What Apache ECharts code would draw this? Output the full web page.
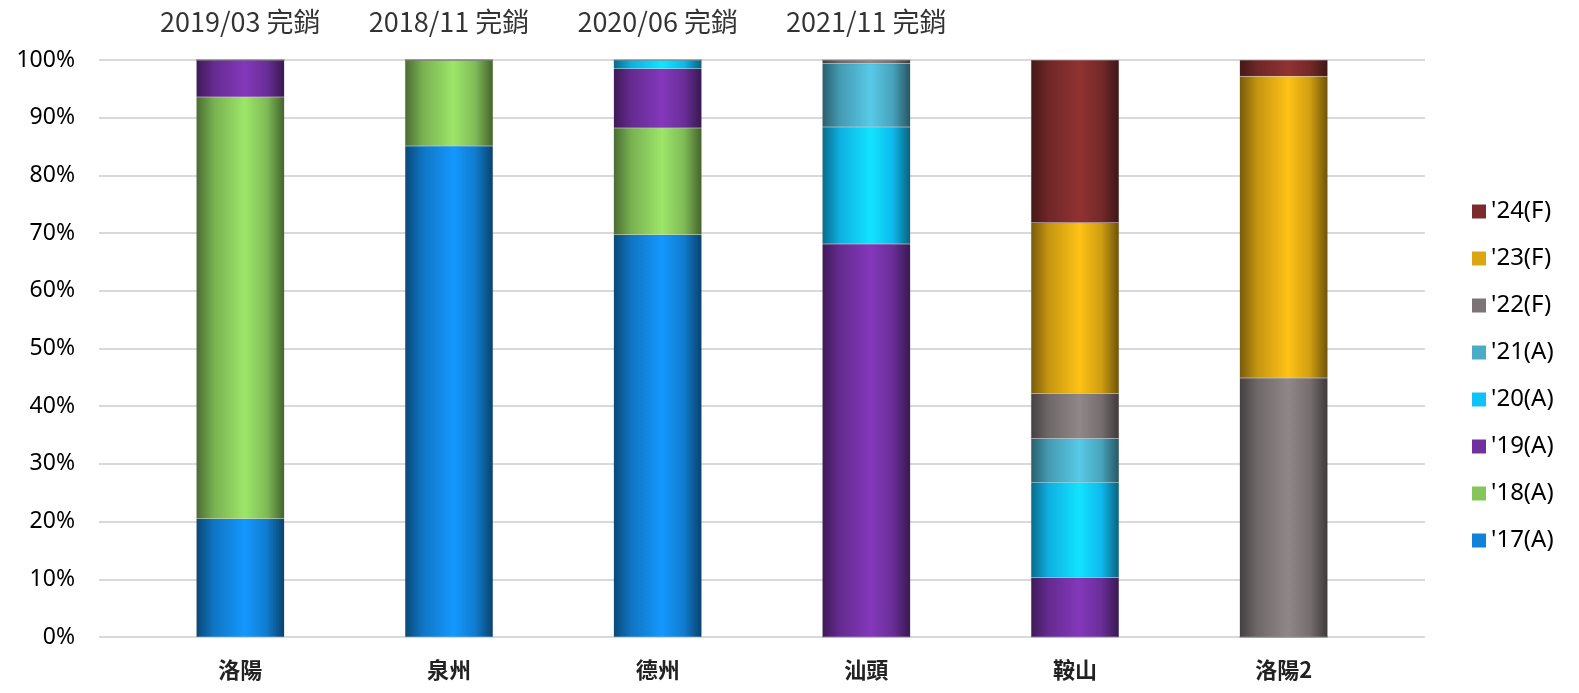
<!DOCTYPE html>
<html>
<head>
<meta charset="utf-8">
<script src="https://cdn.jsdelivr.net/npm/echarts@6/dist/echarts.min.js"></script>
<style>
html,body{margin:0;padding:0;background:#fff;}
#main{width:1579px;height:693px;}
</style>
</head>
<body>
<div id="main"></div>
<script>
// ---- data ----
const categories = ['洛陽', '泉州', '德州', '汕頭', '鞍山', '洛陽2'];
const seriesNames = ["'17(A)", "'18(A)", "'19(A)", "'20(A)", "'21(A)", "'22(F)", "'23(F)", "'24(F)"];
const s17 = [20.5, 85.1, 69.7, 0, 0, 0];
const s18 = [73.1, 14.9, 18.5, 0, 0, 0];
const s19 = [6.4, 0, 10.3, 68.1, 10.3, 0];
const s20 = [0, 0, 1.5, 20.3, 16.5, 0];
const s21 = [0, 0, 0, 11.0, 7.6, 0];
const s22 = [0, 0, 0, 0.6, 7.8, 44.9];
const s23 = [0, 0, 0, 0, 29.6, 52.3];
const s24 = [0, 0, 0, 0, 28.2, 2.8];
const seriesValues = [s17, s18, s19, s20, s21, s22, s23, s24];
const soldOutCats = ['洛陽', '泉州', '德州', '汕頭'];
const soldOutText = ['2019/03 完銷', '2018/11 完銷', '2020/06 完銷', '2021/11 完銷'];
const yTicks = [0, 10, 20, 30, 40, 50, 60, 70, 80, 90, 100];

// ---- styles ----
const baseColors = ['#1182d9', '#86c55a', '#7030a0', '#0fc3fa', '#4bacc6', '#7b7374', '#daa612', '#7b2b2b'];
function shade(hex, f) {
  let r = parseInt(hex.slice(1,3),16), g = parseInt(hex.slice(3,5),16), b = parseInt(hex.slice(5,7),16);
  r = r*(1+f); g = g*(1+f); b = b*(1+f);
  const h = v => Math.round(Math.max(0,Math.min(255,v))).toString(16).padStart(2,'0');
  return '#' + h(r) + h(g) + h(b);
}
function grad(hex) {
  return new echarts.graphic.LinearGradient(0, 0, 1, 0, [
    {offset: 0, color: shade(hex, -0.45)},
    {offset: 0.2, color: shade(hex, -0.1)},
    {offset: 0.55, color: shade(hex, 0.17)},
    {offset: 0.8, color: shade(hex, -0.05)},
    {offset: 1, color: shade(hex, -0.5)}
  ]);
}

const chart = echarts.init(document.getElementById('main'));
const series = seriesNames.map((name, i) => ({
  name: name,
  type: 'bar',
  stack: 'total',
  xAxisIndex: 0,
  yAxisIndex: 0,
  barWidth: 88,
  itemStyle: {color: grad(baseColors[i]), borderColor: 'rgba(110,110,110,0.25)', borderWidth: 0.5},
  emphasis: {disabled: true},
  data: seriesValues[i]
}));
series.push({
  type: 'scatter',
  xAxisIndex: 0,
  yAxisIndex: 0,
  symbolSize: 0,
  silent: true,
  clip: false,
  data: soldOutCats.map((c, i) => ({value: [c, 100], label: {formatter: soldOutText[i]}})),
  label: {
    show: true, position: 'top', distance: 25,
    color: '#000', fontSize: 27, fontFamily: '"Noto Sans CJK TC", sans-serif'
  }
});
series.push({type: 'line', xAxisIndex: 1, yAxisIndex: 1, data: [], silent: true});

chart.setOption({
  backgroundColor: '#fff',
  animation: false,
  grid: [
    {left: 136, right: 191, top: 60, bottom: 56},
    {left: 99, right: 154, top: 60, bottom: 56}
  ],
  legend: {
    data: seriesNames.map((n, i) => ({name: n, itemStyle: {color: baseColors[i], borderWidth: 0}})).reverse(),
    orient: 'vertical',
    left: 1467,
    top: 194,
    itemWidth: 14,
    itemHeight: 14,
    itemGap: 22,
    icon: 'rect',
    textStyle: {fontSize: 24, color: '#000', fontFamily: '"Noto Sans", sans-serif', lineHeight: 25, padding: [0,0,0,0]},
    selectedMode: false
  },
  xAxis: [
    {
      type: 'category', gridIndex: 0, data: categories,
      axisLine: {show: false}, axisTick: {show: false},
      axisLabel: {fontSize: 22, fontWeight: 'bold', color: '#222', margin: 22, fontFamily: '"Noto Sans CJK TC", sans-serif'}
    },
    {
      type: 'value', gridIndex: 1, min: 0, max: 1, show: false
    }
  ],
  yAxis: [
    {
      type: 'value', gridIndex: 0, min: 0, max: 100, interval: 10,
      axisLabel: {show: false}, splitLine: {show: false}, axisLine: {show: false}, axisTick: {show: false}
    },
    {
      type: 'value', gridIndex: 1, min: yTicks[0], max: yTicks[yTicks.length-1], interval: 10,
      axisLine: {show: false}, axisTick: {show: false},
      splitLine: {lineStyle: {color: '#d9d9d9', width: 2}},
      axisLabel: {formatter: '{value}%', fontSize: 23, color: '#000', margin: 24, fontFamily: '"Noto Sans", sans-serif'}
    }
  ],
  series: series
});
</script>
</body>
</html>
